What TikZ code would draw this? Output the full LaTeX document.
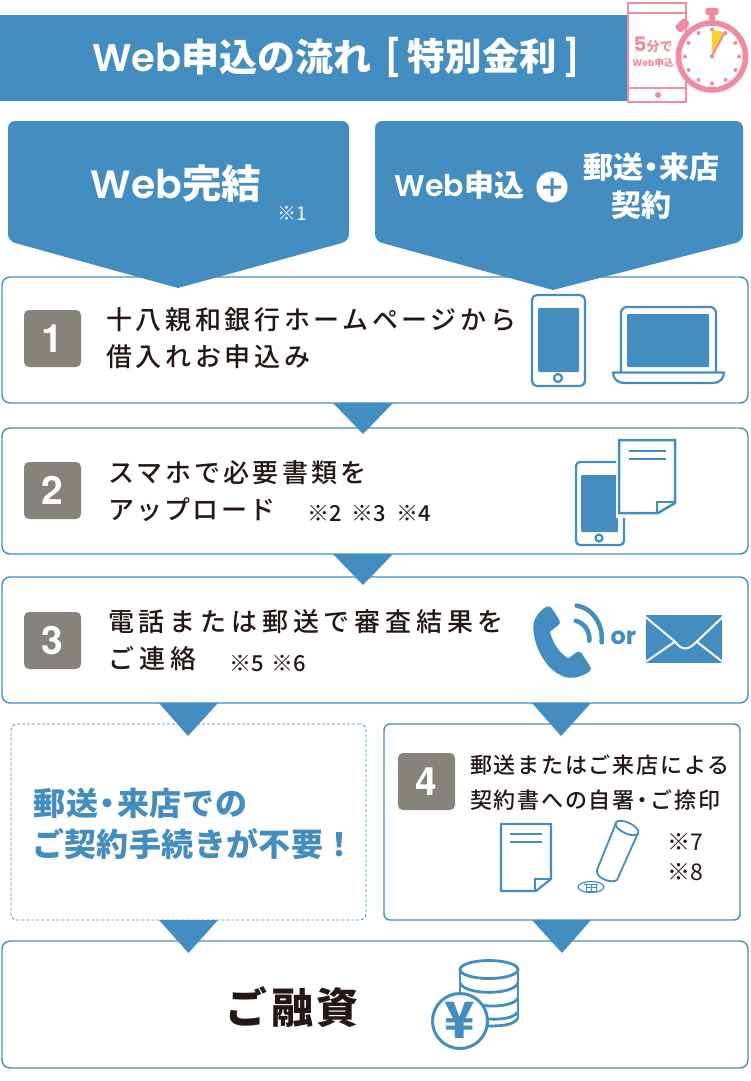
\documentclass[tikz,border=0pt]{standalone}
\usepackage{fontspec}
\setmainfont{Noto Sans CJK JP}
\newfontfamily\jpm{Noto Sans CJK JP Medium}
\newfontfamily\lat{Poppins}
\newfontfamily\latm{Poppins SemiBold}
\newfontfamily\heros{TeX Gyre Heros}
\usetikzlibrary{calc}
\definecolor{mainblue}{HTML}{448DC1}
\definecolor{stampgray}{HTML}{86827C}
\definecolor{pinkc}{HTML}{F08BA0}
\definecolor{yellowc}{HTML}{FBD12F}
\definecolor{inkc}{HTML}{231815}
\newcommand{\sz}[2]{\fontsize{#1}{#1}\selectfont\addfontfeature{LetterSpace=#2}}
\newcommand{\wb}[1]{{\latm\fontsize{#1}{#1}\selectfont Web}}
\tikzset{
 x=1pt,y=-1pt,
 panel/.style={draw=mainblue,line width=1.4pt,fill=white,rounded corners=8pt,inner sep=0pt,outer sep=0pt},
 numbox/.style={fill=stampgray,rounded corners=5pt,minimum width=57pt,minimum height=57pt,inner sep=0pt,text=white,font=\heros\bfseries\fontsize{39}{39}\selectfont},
 txt/.style={anchor=west,inner sep=0pt,text=inkc},
 wtxt/.style={inner sep=0pt,text=white},
 ic/.style={draw=mainblue,line width=2.2pt,line join=round},
 icf/.style={fill=mainblue},
 tri/.style={fill=mainblue},
}
\begin{document}
\begin{tikzpicture}
\useasboundingbox (0,0) rectangle (750,1081);
\fill[white] (0,0) rectangle (750,1081);
% header
\fill[mainblue] (0,15) rectangle (627,101);
\node[wtxt,anchor=west] (title) at (92,57) {\wb{38.5}\sz{38}{0}\textbf{申込の流れ}};
\node[wtxt,anchor=west] (titleb) at (384,57) {\latm\fontsize{36}{36}\selectfont[\kern5pt{\rmfamily\sz{37.5}{0}\textbf{特別金利}}\kern5pt]};
% pink phone + watch
\draw[pinkc,line width=2pt] (628,3) rectangle (686,102);
\draw[pinkc,line width=2pt] (628,13) -- (686,13) (628,88) -- (686,88);
\fill[pinkc] (658,95) circle (3);
\node[inner sep=0pt,text=pinkc] (five) at (653,45) {\fontsize{13}{13}\selectfont\textbf{{\lat\fontsize{20}{20}\selectfont 5}分で}};
\node[inner sep=0pt,text=pinkc] (webm) at (653,63) {\fontsize{9.5}{10}\selectfont\textbf{{\lat Web}申込}};
\fill[pinkc,rounded corners=2pt] (705.5,8) rectangle (718.5,15);
\fill[pinkc] (709,14) rectangle (715,24);
\fill[pinkc,rounded corners=3pt,rotate around={45:(682,25)}] (675,21) rectangle (689,30);
\draw[pinkc,line width=5.5pt,fill=white] (712,56.5) circle (33.5);
\fill[yellowc] (712,56.5) -- (712,30) -- (725,32) -- cycle;
\draw[pinkc,line width=2pt,line cap=round] (712,56) -- (725,32);
\foreach \a in {0,30,...,330}{\fill[pinkc] (712,56.5)++(\a:27) circle (2);}
\fill[pinkc] (712,56.5) circle (2.2);
% panels
\node[panel,minimum width=746pt,minimum height=126pt] (box1) at (375,340) {};
\node[panel,minimum width=746pt,minimum height=126pt] (box2) at (375,491) {};
\node[panel,minimum width=746pt,minimum height=126pt] (box3) at (375,640) {};
\node[draw=mainblue,line width=0.8pt,dash pattern=on 3pt off 2pt,rounded corners=6pt,minimum width=355pt,minimum height=196pt,inner sep=0pt,outer sep=0pt] (nocontract) at (188.5,822) {};
\node[panel,rounded corners=6pt,minimum width=356pt,minimum height=196pt] (box4) at (562,822) {};
\node[panel,minimum width=746pt,minimum height=127pt] (box5) at (375,1004.5) {};
% big pentagons
\fill[mainblue] (178,121) [rounded corners=7pt] -- (349,121) -- (349,241) [sharp corners] -- (178,288) [rounded corners=7pt] -- (8,241) -- (8,121) [sharp corners] -- cycle;
\fill[mainblue] (553,121) [rounded corners=7pt] -- (743,121) -- (743,241) [sharp corners] -- (553,290) [rounded corners=7pt] -- (375,241) -- (375,121) [sharp corners] -- cycle;
\node[wtxt] (webdone) at (176,184) {\wb{39.5}\sz{39.5}{0}\textbf{完結}};
\node[wtxt] (n1) at (292,213) {\fontsize{19}{19}\selectfont ※1};
\node[wtxt] (webapp) at (459.5,185) {\wb{30}\sz{30}{0}\textbf{申込}};
\node[fill=white,circle,minimum size=31pt,inner sep=0pt] (plus) at (552,187) {};
\fill[mainblue] (543,185.5) rectangle (561,188.5) (550.5,178) rectangle (553.5,196);
\node[wtxt] (mail) at (651,167) {\sz{30}{0}\textbf{郵送}\kern-7pt\textbf{・}\kern-7pt\textbf{来店}};
\node[wtxt] (keiyaku) at (641,205) {\sz{30}{0}\textbf{契約}};
% triangles between panels
\fill[tri] ([xshift=-42pt]box1.south) -- ([xshift=18pt]box1.south) -- ([xshift=-12pt,yshift=-31pt]box1.south) -- cycle;
\fill[tri] ([xshift=-42pt]box2.south) -- ([xshift=18pt]box2.south) -- ([xshift=-12pt,yshift=-31pt]box2.south) -- cycle;
\fill[tri] ([xshift=-216pt]box3.south) -- ([xshift=-157pt]box3.south) -- ([xshift=-187pt,yshift=-33pt]box3.south) -- cycle;
\fill[tri] ([xshift=157pt]box3.south) -- ([xshift=216pt]box3.south) -- ([xshift=186pt,yshift=-33pt]box3.south) -- cycle;
\fill[tri] ([xshift=-29.5pt]nocontract.south) -- ([xshift=29.5pt]nocontract.south) -- ([yshift=-33pt]nocontract.south) -- cycle;
\fill[tri] ([xshift=-30pt]box4.south) -- ([xshift=29pt]box4.south) -- ([yshift=-33pt]box4.south) -- cycle;
% number squares
\node[numbox] (num1) at (52.5,338.5) {1};
\node[numbox] (num2) at (52.5,490.5) {2};
\node[numbox] (num3) at (52.5,640.5) {3};
\node[numbox] (num4) at (426.5,781.5) {4};
% step texts
\node[txt] (t1a) at (106,320) {\jpm\sz{26}{14}十八親和銀行ホームページから};
\node[txt] (t1b) at (106,357) {\jpm\sz{26}{14}借入れお申込み};
\node[txt] (t2a) at (108,473) {\jpm\sz{26}{12}スマホで必要書類を};
\node[txt] (t2b) at (108,510) {\jpm\sz{26}{8.5}アップロード};
\node[txt] (t2c) at (307,514) {\jpm\fontsize{22}{22}\selectfont ※2\kern10pt ※3\kern10pt ※4};
\node[txt] (t3a) at (108,622) {\jpm\sz{26}{18.5}電話または郵送で審査結果を};
\node[txt] (t3b) at (108,659) {\jpm\sz{26}{19}ご連絡};
\node[txt] (t3c) at (229,664) {\jpm\fontsize{22}{22}\selectfont ※5\kern8pt ※6};
\node[txt] (t4a) at (470,765) {\jpm\sz{22}{8}郵送またはご来店による};
\node[txt] (t4b) at (470,800) {\jpm\sz{22}{8}契約書への自署\kern-3pt・\kern-3ptご捺印};
\node[txt] (t4c) at (667,842) {\fontsize{23}{23}\selectfont ※7};
\node[txt] (t4d) at (667,872) {\fontsize{23}{23}\selectfont ※8};
\node[txt,text=mainblue] (dash1) at (33.5,803) {\sz{32}{1.8}\textbf{郵送}\kern-7pt\textbf{・}\kern-7pt\textbf{来店での}};
\node[txt,text=mainblue] (dash2) at (32,844) {\sz{32}{1.2}\textbf{ご契約手続きが不要！}};
\node[inner sep=0pt,text=inkc] (loan) at (294,1007) {\sz{42}{9}\textbf{ご融資}};
% phone + laptop box 1
\draw[ic,rounded corners=5pt] (532,295) rectangle (585,386);
\fill[icf,rounded corners=1pt] (538,308) rectangle (579,372);
\draw[ic] (558,378) circle (4);
\draw[ic,rounded corners=6pt] (621,372) -- (621,307) -- (716,307) -- (716,372);
\fill[icf,rounded corners=1pt] (627,314) rectangle (709,367);
\draw[ic] (613,372.5) .. controls (613,379) and (618,383) .. (624,383) -- (713,383) .. controls (719,383) and (724,379) .. (724,372.5) -- cycle;
% box 2 icons
\draw[ic,rounded corners=4pt] (576,462) rectangle (624,545);
\fill[icf,rounded corners=1pt] (581,475) rectangle (618,532);
\draw[ic] (599,538) circle (3.5);
\fill[white] (616,438) rectangle (678,518);
\draw[ic,line width=2.5pt,miter limit=2,line join=miter] (619,440) -- (675,440) -- (675,503) -- (658,513) -- (619,513) -- cycle;
\draw[ic,line width=2pt,line join=miter] (657,513) -- (657,502) -- (675,502);
\draw[ic,line width=2pt] (629,451) -- (666,451) (629,459) -- (666,459);
% phone icon
\begin{scope}[shift={(500,590)},x=0.3333pt,y=-0.3333pt]
\fill[mainblue] (100,110) .. controls (100,85) and (120,60) .. (140,50) .. controls (147,47) and (152,50) .. (155,54) -- (178,90) .. controls (182,98) and (180,103) .. (172,108) -- (150,125) .. controls (160,165) and (180,190) .. (205,205) -- (228,188) .. controls (236,183) and (244,186) .. (248,195) -- (270,228) .. controls (275,237) and (272,243) .. (265,247) .. controls (245,260) and (225,265) .. (205,263) .. controls (150,255) and (100,180) .. (100,110) -- cycle;
\draw[mainblue,line width=4.6pt,line cap=round] (227,92) .. controls (255,100) and (270,125) .. (268,152);
\draw[mainblue,line width=4.6pt,line cap=round] (230,47) .. controls (280,55) and (310,105) .. (305,157);
\node[inner sep=0pt,text=mainblue] (orl) at (370,143) {\fontsize{24}{24}\selectfont\lat\bfseries or};
\fill[mainblue] (438,76) rectangle (667,220);
\draw[white,line width=2pt,line cap=round] (438,82) -- (525,155) .. controls (545,182) and (565,182) .. (590,155) -- (667,82);
\draw[white,line width=2pt] (438,215) -- (525,155) (667,215) -- (590,155);
\end{scope}
% box 4 icons
\draw[ic,line join=miter] (501,824) -- (551,824) -- (551,879) -- (536,891) -- (501,891) -- cycle;
\draw[ic,line width=1.8pt,line join=miter] (535,891) -- (535,879) -- (551,879);
\draw[ic,line width=1.8pt] (510,834) -- (542,834) (510,842) -- (542,842);
\draw[ic,line width=1.8pt] (627,828) ellipse[x radius=12.5,y radius=5.5,rotate=-25];
\draw[ic,line width=1.8pt] (616,823) -- (597,870) .. controls (595,878) and (612,884) .. (617,880) -- (638,833);
\draw[ic,line width=1.2pt] (591,887) ellipse[x radius=13,y radius=5.5];
\draw[ic,line width=1pt] (586,884) rectangle (596,891) (584,884) -- (598,884) (591,884) -- (591,891) (586,887.5) -- (596,887.5);
% coins
\draw[ic,line width=2.8pt] (489,969.5) ellipse[x radius=29,y radius=9];
\draw[ic,line width=2.8pt] (460,970) -- (460,995) (518,970) -- (518,1018);
\draw[ic,line width=2.8pt] (460,983) .. controls (465,995.5) and (513,995.5) .. (518,983);
\draw[ic,line width=2.8pt] (460,996) .. controls (470,1009) and (513,1009) .. (518,998);
\draw[ic,line width=2.8pt] (478,1018) .. controls (495,1020) and (512,1020) .. (518,1012);
\draw[ic,line width=2.8pt] (485,1026) .. controls (500,1026) and (513,1026) .. (518,1018);
\draw[ic,line width=3pt,fill=white] (460,1021) circle (27.5);
\node[inner sep=0pt,text=mainblue] (yen) at (460,1020.5) {\fontsize{50}{50}\selectfont\textbf{¥}};
\end{tikzpicture}
\end{document}
